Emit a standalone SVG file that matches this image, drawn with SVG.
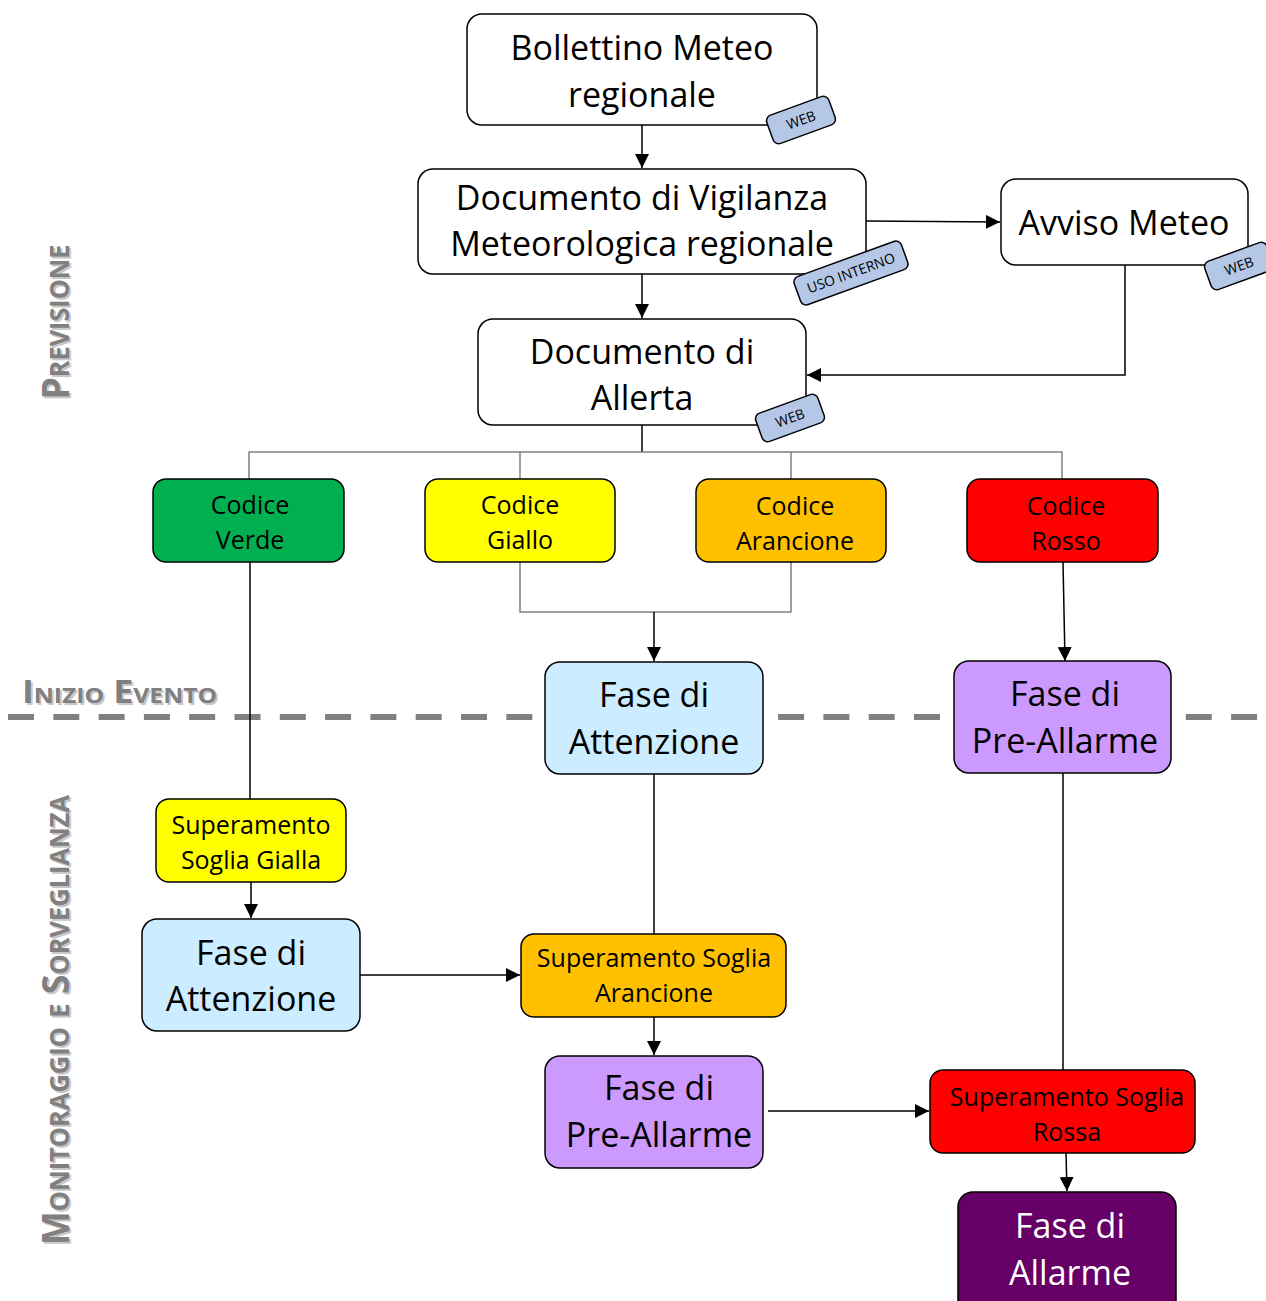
<svg xmlns="http://www.w3.org/2000/svg" width="1266" height="1301" viewBox="0 0 1266 1301">
<defs>
<style>
.box{stroke:#000;stroke-width:1.5}
.t{font-family:"Open Sans","DejaVu Sans",sans-serif;text-anchor:middle;fill:#000}
.big{font-size:34px}
.sm{font-size:25px}
.tag{fill:#B4C7E7;stroke:#000;stroke-width:1.5}
.tagt{font-family:"Open Sans","DejaVu Sans",sans-serif;font-size:14px;text-anchor:middle;fill:#000}
.c{stroke:#000;stroke-width:1.5;fill:none}
.g{stroke:#808080;stroke-width:1.5;fill:none}
.lbl{font-family:"Open Sans","DejaVu Sans",sans-serif;font-weight:bold;font-variant:small-caps;fill:#808080}
.sh{fill:#c8c8c8}
</style>
<marker id="ah" viewBox="0 0 10 10" refX="10" refY="5" markerWidth="14" markerHeight="14" markerUnits="userSpaceOnUse" orient="auto">
<path d="M0,0 L10,5 L0,10 z" fill="#000"/>
</marker>
</defs>
<rect width="1266" height="1301" fill="#fff"/>

<!-- phase divider -->
<line x1="8" y1="717" x2="1266" y2="717" stroke="#808080" stroke-width="6" stroke-dasharray="26 19.3"/>

<!-- side labels -->
<g id="lbl-previsione">
<text class="lbl sh" font-size="38" transform="translate(71,324) rotate(-90)" text-anchor="middle" textLength="155" lengthAdjust="spacingAndGlyphs">Previsione</text>
<text class="lbl" font-size="38" transform="translate(69,322) rotate(-90)" text-anchor="middle" textLength="155" lengthAdjust="spacingAndGlyphs">Previsione</text>
</g>
<g id="lbl-inizio">
<text class="lbl sh" font-size="32" x="24" y="705" textLength="195" lengthAdjust="spacingAndGlyphs">Inizio Evento</text>
<text class="lbl" font-size="32" x="22" y="703" textLength="195" lengthAdjust="spacingAndGlyphs">Inizio Evento</text>
</g>
<g id="lbl-monitoraggio">
<text class="lbl sh" font-size="38" transform="translate(71,1022) rotate(-90)" text-anchor="middle" textLength="450" lengthAdjust="spacingAndGlyphs">Monitoraggio e Sorveglianza</text>
<text class="lbl" font-size="38" transform="translate(69,1020) rotate(-90)" text-anchor="middle" textLength="450" lengthAdjust="spacingAndGlyphs">Monitoraggio e Sorveglianza</text>
</g>

<!-- connectors -->
<g id="connectors">
<line class="c" x1="642" y1="125" x2="642" y2="168" marker-end="url(#ah)"/>
<line class="c" x1="866" y1="221" x2="1000" y2="222" marker-end="url(#ah)"/>
<polyline class="c" points="1125,265 1125,375 807,375" marker-end="url(#ah)"/>
<line class="c" x1="642" y1="274" x2="642" y2="318" marker-end="url(#ah)"/>
<line class="c" x1="642" y1="425" x2="642" y2="452"/>
<polyline class="g" points="249,479 249,452 1062,452 1062,479"/>
<line class="g" x1="520" y1="452" x2="520" y2="479"/>
<line class="g" x1="791" y1="452" x2="791" y2="479"/>
<polyline class="g" points="520,562 520,612 791,612 791,562"/>
<line class="c" x1="654" y1="612" x2="654" y2="661" marker-end="url(#ah)"/>
<line class="c" x1="1063" y1="562" x2="1065" y2="661" marker-end="url(#ah)"/>
<line class="c" x1="250" y1="562" x2="250" y2="799"/>
<line class="c" x1="251" y1="882" x2="251" y2="918" marker-end="url(#ah)"/>
<line class="c" x1="360" y1="975" x2="520" y2="975" marker-end="url(#ah)"/>
<line class="c" x1="654" y1="774" x2="654" y2="934"/>
<line class="c" x1="654" y1="1017" x2="654" y2="1055" marker-end="url(#ah)"/>
<line class="c" x1="768" y1="1111" x2="929" y2="1111" marker-end="url(#ah)"/>
<line class="c" x1="1063" y1="773" x2="1063" y2="1070"/>
<line class="c" x1="1066" y1="1153" x2="1067" y2="1191" marker-end="url(#ah)"/>
</g>

<!-- nodes -->
<g id="n-bollettino">
<rect class="box" x="467" y="14" width="350" height="111" rx="15" fill="#fff"/>
<text class="t big" x="642" y="60">Bollettino Meteo</text>
<text class="t big" x="642" y="107">regionale</text>
<g transform="translate(801,120) rotate(-20)"><rect class="tag" x="-33" y="-15" width="66" height="30" rx="6"/><text class="tagt" x="0" y="5">WEB</text></g>
</g>

<g id="n-vigilanza">
<rect class="box" x="418" y="169" width="448" height="105" rx="15" fill="#fff"/>
<text class="t big" x="642" y="210">Documento di Vigilanza</text>
<text class="t big" x="642" y="256">Meteorologica regionale</text>
<g transform="translate(851,273) rotate(-20)"><rect class="tag" x="-57" y="-15" width="114" height="30" rx="6"/><text class="tagt" x="0" y="5">USO INTERNO</text></g>
</g>

<g id="n-avviso">
<rect class="box" x="1001" y="179" width="247" height="86" rx="15" fill="#fff"/>
<text class="t big" x="1124" y="235">Avviso Meteo</text>
<g transform="translate(1239,266) rotate(-20)"><rect class="tag" x="-33" y="-15" width="66" height="30" rx="6"/><text class="tagt" x="0" y="5">WEB</text></g>
</g>

<g id="n-allerta">
<rect class="box" x="478" y="319" width="328" height="106" rx="15" fill="#fff"/>
<text class="t big" x="642" y="364">Documento di</text>
<text class="t big" x="642" y="410">Allerta</text>
<g transform="translate(790,418) rotate(-20)"><rect class="tag" x="-33" y="-15" width="66" height="30" rx="6"/><text class="tagt" x="0" y="5">WEB</text></g>
</g>

<g id="n-verde">
<rect class="box" x="153" y="479" width="191" height="83" rx="13" fill="#00B050"/>
<text class="t sm" x="250" y="514">Codice</text>
<text class="t sm" x="250" y="549">Verde</text>
</g>
<g id="n-giallo">
<rect class="box" x="425" y="479" width="190" height="83" rx="13" fill="#FFFF00"/>
<text class="t sm" x="520" y="514">Codice</text>
<text class="t sm" x="520" y="549">Giallo</text>
</g>
<g id="n-arancione">
<rect class="box" x="696" y="479" width="190" height="83" rx="13" fill="#FFC000"/>
<text class="t sm" x="795" y="515">Codice</text>
<text class="t sm" x="795" y="550">Arancione</text>
</g>
<g id="n-rosso">
<rect class="box" x="967" y="479" width="191" height="83" rx="13" fill="#FF0000"/>
<text class="t sm" x="1066" y="515">Codice</text>
<text class="t sm" x="1066" y="550">Rosso</text>
</g>

<g id="n-attenzione1">
<rect class="box" x="545" y="662" width="218" height="112" rx="15" fill="#CCECFF"/>
<text class="t big" x="654" y="707">Fase di</text>
<text class="t big" x="654" y="754">Attenzione</text>
</g>
<g id="n-preallarme1">
<rect class="box" x="954" y="661" width="217" height="112" rx="15" fill="#CC99FF"/>
<text class="t big" x="1065" y="706">Fase di</text>
<text class="t big" x="1065" y="753">Pre-Allarme</text>
</g>

<g id="n-soglia-gialla">
<rect class="box" x="156" y="799" width="190" height="83" rx="13" fill="#FFFF00"/>
<text class="t sm" x="251" y="834">Superamento</text>
<text class="t sm" x="251" y="869">Soglia Gialla</text>
</g>
<g id="n-attenzione2">
<rect class="box" x="142" y="919" width="218" height="112" rx="15" fill="#CCECFF"/>
<text class="t big" x="251" y="965">Fase di</text>
<text class="t big" x="251" y="1011">Attenzione</text>
</g>
<g id="n-soglia-arancione">
<rect class="box" x="521" y="934" width="265" height="83" rx="13" fill="#FFC000"/>
<text class="t sm" x="654" y="967">Superamento Soglia</text>
<text class="t sm" x="654" y="1002">Arancione</text>
</g>
<g id="n-preallarme2">
<rect class="box" x="545" y="1056" width="218" height="112" rx="15" fill="#CC99FF"/>
<text class="t big" x="659" y="1100">Fase di</text>
<text class="t big" x="659" y="1147">Pre-Allarme</text>
</g>
<g id="n-soglia-rossa">
<rect class="box" x="930" y="1070" width="265" height="83" rx="13" fill="#FF0000"/>
<text class="t sm" x="1067" y="1106">Superamento Soglia</text>
<text class="t sm" x="1067" y="1141">Rossa</text>
</g>
<g id="n-allarme">
<rect class="box" x="958" y="1192" width="218" height="125" rx="15" fill="#660066"/>
<text class="t big" x="1070" y="1238" style="fill:#fff">Fase di</text>
<text class="t big" x="1070" y="1285" style="fill:#fff">Allarme</text>
</g>
</svg>
